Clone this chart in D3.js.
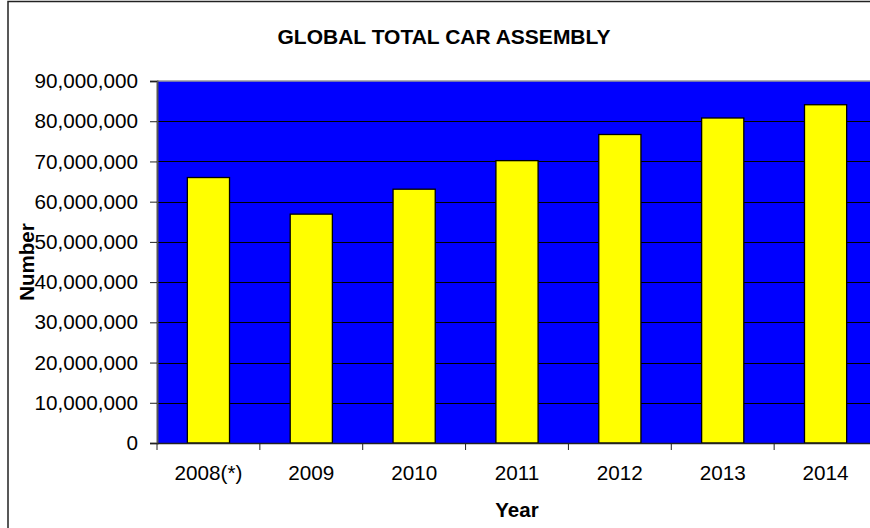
<!DOCTYPE html>
<html>
<head>
<meta charset="utf-8">
<script src="https://cdn.jsdelivr.net/npm/d3@7"></script>
<style>
  html, body { margin: 0; padding: 0; background: #fff; }
  svg { display: block; }
  text { font-family: "Liberation Sans", Arial, sans-serif; fill: #000; }
</style>
</head>
<body>
<svg id="chart" width="870" height="528"></svg>
<script>
const categories = ["2008(*)", "2009", "2010", "2011", "2012", "2013", "2014"];
const values = [66000000, 56900000, 63100000, 70200000, 76700000, 80800000, 84100000];
const yTicks = [0, 10000000, 20000000, 30000000, 40000000, 50000000, 60000000, 70000000, 80000000, 90000000];
const chartTitle = "GLOBAL TOTAL CAR ASSEMBLY";
const xTitle = "Year";
const yTitle = "Number";

const svg = d3.select("#chart");
const plot = { left: 157, right: 877, top: 81, bottom: 443 };

// outer frame
svg.append("rect")
  .attr("x", 8).attr("y", 1.5)
  .attr("width", 900).attr("height", 600)
  .attr("fill", "#fff").attr("stroke", "#222").attr("stroke-width", 1.5);

const x = d3.scaleBand().domain(categories).range([plot.left, plot.right]).paddingInner(0.59).paddingOuter(0.295);
const xEdge = d3.scaleBand().domain(categories).range([plot.left, plot.right]);
const y = d3.scaleLinear().domain([0, 90000000]).range([plot.bottom, plot.top]);

// plot background
svg.append("rect")
  .attr("x", plot.left).attr("y", plot.top)
  .attr("width", plot.right - plot.left).attr("height", plot.bottom - plot.top)
  .attr("fill", "#0000ff");

// top border of plot area
svg.append("line")
  .attr("x1", plot.left).attr("x2", plot.right)
  .attr("y1", plot.top).attr("y2", plot.top)
  .attr("stroke", "#999").attr("stroke-width", 1.5);

// gridlines
svg.append("g").selectAll("line")
  .data(yTicks.filter(d => d > 0 && d < 90000000))
  .join("line")
  .attr("x1", plot.left).attr("x2", plot.right)
  .attr("y1", d => Math.round(y(d)) + 0.5).attr("y2", d => Math.round(y(d)) + 0.5)
  .attr("stroke", "#000").attr("stroke-width", 1);

// bars
svg.append("g").selectAll("rect")
  .data(values)
  .join("rect")
  .attr("x", (d, i) => x(categories[i]))
  .attr("y", d => y(d))
  .attr("width", x.bandwidth())
  .attr("height", d => plot.bottom - y(d))
  .attr("fill", "#ffff00")
  .attr("stroke", "#000").attr("stroke-width", 1.3);

// y axis
const yAxis = d3.axisLeft(y).tickValues(yTicks).tickSize(7).tickPadding(12)
  .tickFormat(d3.format(","));
const yg = svg.append("g").attr("transform", `translate(${plot.left},0)`).call(yAxis);
yg.select(".domain").attr("stroke", "#555").attr("stroke-width", 2);
yg.selectAll(".tick line").attr("stroke", "#222");
yg.selectAll(".tick text").attr("font-size", 20.7).attr("font-family", "Liberation Sans, Arial, sans-serif").attr("fill", "#000");

// x axis
const xAxis = d3.axisBottom(x).tickSize(0).tickPadding(22);
const xg = svg.append("g").attr("transform", `translate(0,${plot.bottom})`).call(xAxis);
xg.select(".domain").attr("stroke", "#222").attr("stroke-width", 1.5);
xg.selectAll(".tick text").attr("font-size", 20.7).attr("font-family", "Liberation Sans, Arial, sans-serif").attr("fill", "#000");
// category separators ticks
svg.append("g").selectAll("line")
  .data(categories)
  .join("line")
  .attr("x1", d => xEdge(d)).attr("x2", d => xEdge(d))
  .attr("y1", plot.bottom).attr("y2", plot.bottom + 7)
  .attr("stroke", "#222").attr("stroke-width", 1);

// titles
svg.append("text")
  .attr("x", 444).attr("y", 43.5)
  .attr("text-anchor", "middle")
  .attr("font-size", 21).attr("font-weight", "bold")
  .text(chartTitle);

svg.append("text")
  .attr("x", (plot.left + plot.right) / 2).attr("y", 516.5)
  .attr("text-anchor", "middle")
  .attr("font-size", 20.5).attr("font-weight", "bold")
  .text(xTitle);

svg.append("text")
  .attr("transform", `translate(33.5,${(plot.top + plot.bottom) / 2}) rotate(-90)`)
  .attr("text-anchor", "middle")
  .attr("font-size", 20.5).attr("font-weight", "bold")
  .text(yTitle);
</script>
</body>
</html>
